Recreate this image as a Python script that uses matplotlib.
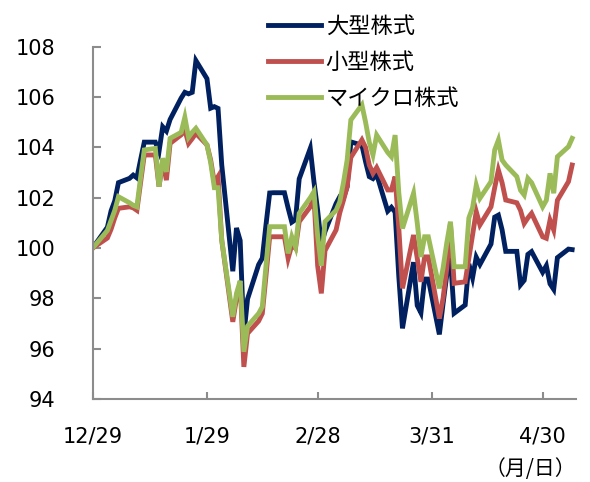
import matplotlib
matplotlib.use("Agg")
import matplotlib.pyplot as plt
import pandas as pd

# 平日ベース（1/1 は除く）、12/29 = 100
dates = pd.bdate_range("2017-12-29", "2018-05-08")
dates = dates[dates != pd.Timestamp("2018-01-01")]

large = [100.00,
         100.83, 101.48, 101.88, 102.60,
         102.77, 102.90, 102.79, 103.51, 104.21,
         104.21, 103.84, 104.82, 104.65, 105.11,
         105.96, 106.19, 106.13, 106.19, 107.45,
         106.73, 105.56, 105.62, 105.55, 103.31,
         99.08, 100.80, 100.30, 96.54, 97.98,
         99.34, 99.60, 100.93, 102.19, 102.20,
         102.20, 101.59, 101.03, 101.13, 102.75,
         103.96, 102.64, 101.50, 100.15, 100.66,
         101.77, 102.04, 101.99, 102.44, 104.22,
         104.09, 103.43, 102.84, 102.76, 102.93,
         101.47, 101.62, 101.43, 98.88, 96.81,
         99.44, 97.72, 97.43, 98.77, 98.77,
         96.57, 97.79, 98.92, 99.60, 97.41,
         97.74, 99.37, 98.82, 99.64, 99.35,
         100.16, 101.23, 101.31, 100.73, 99.87,
         99.87, 98.54, 98.72, 99.75, 99.86,
         99.04, 99.30, 98.58, 98.36, 99.62,
         99.96, 99.94]

small = [100.00,
         100.40, 100.75, 101.20, 101.58,
         101.64, 101.60, 101.50, 102.60, 103.70,
         103.70, 102.44, 103.44, 102.70, 104.16,
         104.50, 104.69, 104.16, 104.35, 104.56,
         104.10, 103.50, 102.60, 102.84, 100.32,
         97.07, 98.00, 98.60, 95.28, 96.61,
         97.10, 97.40, 98.90, 100.45, 100.45,
         100.45, 99.59, 100.12, 99.99, 101.05,
         101.64, 102.04, 99.30, 98.20, 99.90,
         100.72, 101.40, 101.90, 102.44, 103.60,
         104.30, 104.00, 103.30, 102.97, 103.20,
         102.31, 102.31, 102.84, 100.80, 98.40,
         100.52, 99.60, 98.66, 99.65, 99.65,
         97.20, 98.00, 99.20, 100.98, 98.60,
         98.66, 99.60, 100.52, 101.45, 100.92,
         101.64, 102.40, 103.10, 102.60, 101.91,
         101.80, 101.50, 100.98, 101.20, 101.38,
         100.45, 100.39, 101.11, 100.72, 101.90,
         102.64, 103.30]

micro = [100.00,
         100.70, 101.10, 101.50, 102.04,
         101.80, 101.70, 101.64, 102.80, 103.90,
         103.96, 102.44, 103.57, 103.03, 104.36,
         104.60, 105.20, 104.40, 104.60, 104.76,
         104.10, 103.40, 102.40, 102.40, 100.32,
         97.27, 98.20, 98.70, 95.88, 96.90,
         97.40, 97.67, 99.30, 100.85, 100.85,
         100.85, 99.79, 100.45, 100.05, 101.38,
         102.00, 102.24, 100.50, 99.30, 101.05,
         101.50, 101.84, 102.60, 103.50, 105.09,
         105.69, 105.00, 104.20, 103.70, 104.49,
         103.80, 103.63, 104.49, 102.20, 100.78,
         102.18, 101.00, 99.65, 100.45, 100.45,
         98.40, 99.20, 100.20, 101.05, 99.26,
         99.26, 101.20, 101.60, 102.50, 101.98,
         102.64, 103.90, 104.29, 103.50, 103.30,
         102.84, 102.30, 102.11, 102.77, 102.60,
         101.64, 101.90, 102.97, 102.18, 103.63,
         104.03, 104.36]

labels = ["大型株式", "小型株式", "マイクロ株式"]
colors = ["#002060", "#C0504D", "#9BBB59"]

tick_dates = pd.to_datetime(["2017-12-29", "2018-01-29", "2018-02-28",
                             "2018-03-31", "2018-04-30"])
tick_labels = ["12/29", "1/29", "2/28", "3/31", "4/30"]

plt.rcParams["font.family"] = ["DejaVu Sans", "Noto Sans CJK JP"]

fig = plt.figure(figsize=(5.9, 4.82), dpi=100)
ax = fig.add_axes([0.157, 0.172, 0.819, 0.731])

for vals, lab, col in zip([large, small, micro], labels, colors):
    ax.plot(dates, vals, color=col, lw=3.5, label=lab, solid_joinstyle="miter")

ax.set_xlim(pd.Timestamp("2017-12-29"), pd.Timestamp("2018-05-09"))
ax.set_ylim(94, 108)
ax.set_yticks(range(94, 109, 2))
ax.set_xticks(tick_dates)
ax.set_xticklabels(tick_labels)

for s in ["top", "right"]:
    ax.spines[s].set_visible(False)
for s in ["left", "bottom"]:
    ax.spines[s].set_color("#8C8C8C")
    ax.spines[s].set_linewidth(1.5)

ax.tick_params(axis="both", direction="in", color="#8C8C8C", width=1.5,
               labelsize=15, labelcolor="black")
ax.tick_params(axis="y", length=6, pad=27)
ax.tick_params(axis="x", length=5, pad=20)

ax.legend(loc="upper left", bbox_to_anchor=(0.454, 0.970),
          bbox_transform=fig.transFigure, frameon=False,
          prop={"family": "Noto Sans CJK JP", "size": 16},
          handlelength=2.4, handletextpad=0.2, labelspacing=0.6,
          borderpad=0, borderaxespad=0)

fig.text(0.976, 0.005, "（月/日）", ha="right", va="bottom",
         fontsize=15, family="Noto Sans CJK JP")

fig.savefig("out.png", dpi=100)
